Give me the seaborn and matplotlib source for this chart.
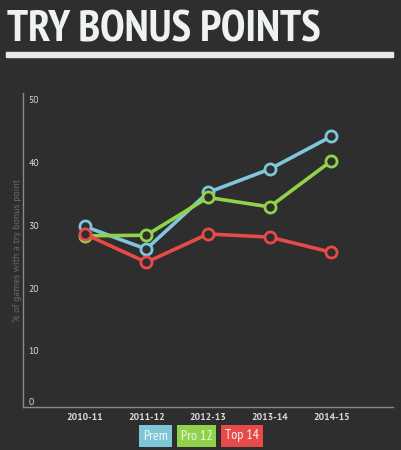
import pandas as pd
import seaborn as sns
import matplotlib.pyplot as plt

seasons = ["2010-11", "2011-12", "2012-13", "2013-14", "2014-15"]
prem = [29.8, 26.2, 35.2, 38.9, 44.1]
pro12 = [28.3, 28.4, 34.4, 32.9, 40.2]
top14 = [28.6, 24.1, 28.6, 28.1, 25.7]
leagues = ["Prem", "Pro 12", "Top 14"]
colors = ["#7fc6da", "#90d34a", "#e84a48"]
y_ticks = [0, 10, 20, 30, 40, 50]

bg = "#2e2e2e"
narrow = ["PT Sans Narrow", "DejaVu Sans"]

df = pd.DataFrame({
    "season": seasons * 3,
    "pct": prem + pro12 + top14,
    "league": [l for l in leagues for _ in seasons],
})

sns.set_theme(style="dark")
plt.rcParams["font.family"] = ["PT Sans", "DejaVu Sans"]

fig = plt.figure(figsize=(4.01, 4.50), dpi=100, facecolor=bg)
ax = fig.add_axes([23 / 401, 1 - 407 / 450, 370 / 401, 314 / 450])
ax.set_facecolor(bg)

sns.lineplot(data=df, x="season", y="pct", hue="league", palette=colors,
             marker="o", markersize=8, linewidth=2.6, ax=ax, legend=False)
for ln in ax.lines:
    ln.set_markerfacecolor(bg)
    ln.set_markeredgecolor(ln.get_color())
    ln.set_markeredgewidth(2)

ax.set_xlim(-1, 5)
ax.set_ylim(1.1, 51)
# the zero label sits just above the baseline
ax.set_yticks([max(v, 2.0) for v in y_ticks])
ax.set_yticklabels([str(v) for v in y_ticks])
ax.tick_params(axis="y", direction="in", length=0, pad=-4, labelsize=7, labelcolor="#d8d8d8")
for t in ax.get_yticklabels():
    t.set_horizontalalignment("left")
ax.tick_params(axis="x", length=0, pad=4, labelsize=7, labelcolor="#dcdcdc")
for t in ax.get_xticklabels():
    t.set_fontweight("bold")
ax.grid(False)

for side in ["top", "right"]:
    ax.spines[side].set_visible(False)
for side in ["left", "bottom"]:
    ax.spines[side].set_visible(True)
    ax.spines[side].set_color("#8a8a8a")
    ax.spines[side].set_linewidth(1)

ax.set_xlabel("")
ax.set_ylabel("% of games with a try bonus point", color="#6a6a6a", fontsize=7, labelpad=1)

# title and rule
fig.text(7 / 401, 1 - 41 / 450, "TRY BONUS POINTS", family=narrow,
         fontweight="bold", fontsize=32, color="#eef2f3", ha="left", va="baseline")
fig.patches.append(plt.Rectangle((6 / 401, 1 - 57 / 450), 387 / 401, 5 / 450,
                                 transform=fig.transFigure, color="#e6eaec", figure=fig))

# legend boxes
fig.canvas.draw()
renderer = fig.canvas.get_renderer()
x = 143
for name, c in zip(leagues, colors):
    t = fig.text(x / 401, 1 - 436 / 450, name, family=narrow,
                 fontsize=10, color="#f4f4f4", ha="left", va="center",
                 bbox=dict(boxstyle="square,pad=0.3", fc=c, ec="none"))
    w = t.get_window_extent(renderer).width
    x += w + 13

fig.savefig("out.png", dpi=100, facecolor=bg)
